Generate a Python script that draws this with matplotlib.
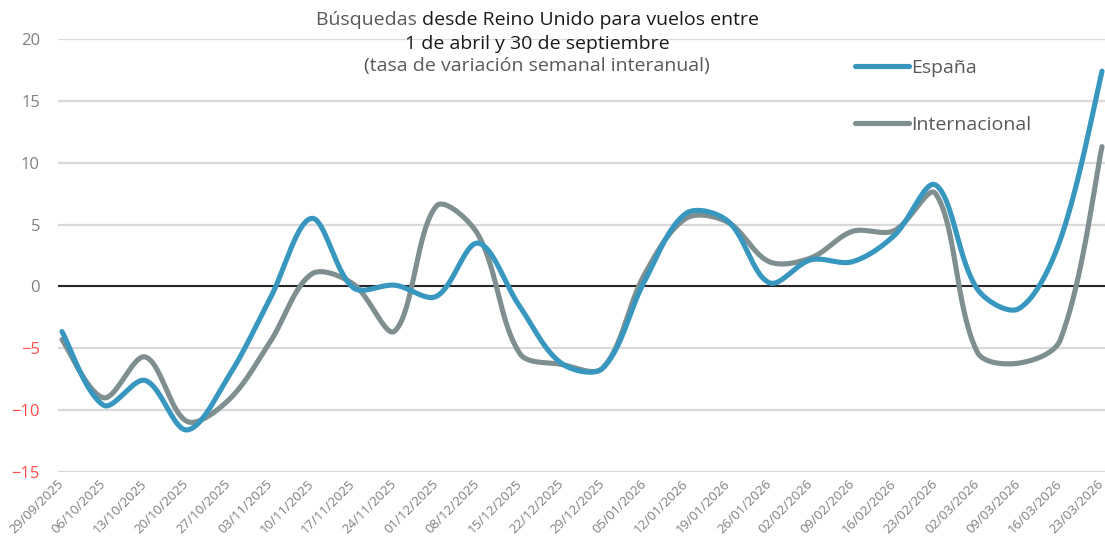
import numpy as np
import matplotlib
matplotlib.use("Agg")
import matplotlib.pyplot as plt

# Datos
fechas = ['29/09/2025', '06/10/2025', '13/10/2025', '20/10/2025', '27/10/2025',
          '03/11/2025', '10/11/2025', '17/11/2025', '24/11/2025', '01/12/2025',
          '08/12/2025', '15/12/2025', '22/12/2025', '29/12/2025', '05/01/2026',
          '12/01/2026', '19/01/2026', '26/01/2026', '02/02/2026', '09/02/2026',
          '16/02/2026', '23/02/2026', '02/03/2026', '09/03/2026', '16/03/2026',
          '23/03/2026']
espana = [-3.65, -9.6, -7.6, -11.6, -7.3, -1.0, 5.5, -0.1, 0.1, -0.8,
          3.5, -1.6, -6.2, -6.6, 0.4, 5.9, 5.3, 0.3, 2.15, 2.0,
          4.1, 8.2, -0.2, -1.8, 3.8, 17.4]
internacional = [-4.3, -9.0, -5.7, -10.9, -9.2, -4.5, 1.0, 0.2, -3.6, 6.5,
                 4.2, -5.4, -6.3, -6.6, 0.95, 5.5, 5.2, 2.0, 2.3, 4.45,
                 4.5, 7.5, -5.3, -6.2, -4.3, 11.3]

azul = '#3797BF'
gris = '#7F8F8F'
texto = '#595959'
rojo = '#FF4B4B'

plt.rcParams['font.family'] = ['Open Sans', 'DejaVu Sans']

# escala aproximada en pixeles (para suavizar como Excel)
px_x = 41.6
px_y = 12.37


# Linea suavizada tipo Excel (Bezier con puntos de control segun distancias)
def suavizar(y, n=40):
    P = np.column_stack([np.arange(len(y)) * px_x, np.asarray(y, float) * px_y])
    m = len(P)
    antes = np.zeros_like(P)
    despues = np.zeros_like(P)
    for i in range(m):
        if i == 0:
            despues[i] = P[i] + (P[1] - P[0]) / 6
            continue
        if i == m - 1:
            antes[i] = P[i] - (P[i] - P[i - 1]) / 6
            continue
        d = P[i + 1] - P[i - 1]
        l1 = np.hypot(*(P[i] - P[i - 1]))
        l2 = np.hypot(*(P[i + 1] - P[i]))
        antes[i] = P[i] - d * l1 / (l1 + l2) / 3
        despues[i] = P[i] + d * l2 / (l1 + l2) / 3
    t = np.linspace(0, 1, n)[:, None]
    partes = []
    for i in range(m - 1):
        b = ((1 - t) ** 3 * P[i] + 3 * (1 - t) ** 2 * t * despues[i]
             + 3 * (1 - t) * t ** 2 * antes[i + 1] + t ** 3 * P[i + 1])
        partes.append(b)
    c = np.vstack(partes)
    return c[:, 0] / px_x, c[:, 1] / px_y


fig = plt.figure(figsize=(11.05, 5.45), dpi=100)
ax = fig.add_axes([58 / 1105, 1 - 472 / 545, 1 - 58 / 1105, (472 - 39) / 545])

x = np.arange(len(fechas))
for y in [-15, -10, -5, 5, 10, 15, 20]:
    ax.axhline(y, color='#D9D9D9', lw=1.6, zorder=0)
ax.axhline(0, color='#262626', lw=1.5, zorder=1)

xe, ye = suavizar(espana)
xi, yi = suavizar(internacional)
ax.plot(xe, ye, color=azul, lw=3.7, solid_capstyle='round', label='España', zorder=3)
ax.plot(xi, yi, color=gris, lw=3.7, solid_capstyle='round', label='Internacional', zorder=2)

ax.set_xlim(-4 / 41.6, 25 + 3 / 41.6)
ax.set_ylim(-15, 20)
ax.set_yticks([-15, -10, -5, 0, 5, 10, 15, 20])
ax.set_xticks(x)
ax.set_xticklabels(fechas, rotation=45, ha='right', va='center', rotation_mode='anchor',
                   fontsize=9.5, color='#7F7F7F')
for lab, v in zip(ax.get_yticklabels(), [-15, -10, -5, 0, 5, 10, 15, 20]):
    lab.set_color(rojo if v < 0 else '#808080')
    lab.set_fontsize(12)
ax.tick_params(axis='both', length=0)
ax.tick_params(axis='y', pad=13)
ax.tick_params(axis='x', pad=7)
for s in ax.spines.values():
    s.set_visible(False)

leg = ax.legend(loc='upper left', bbox_to_anchor=(855 / 1105, 1 - 59 / 545),
                bbox_transform=fig.transFigure, frameon=False, fontsize=14,
                handlelength=2.8, handletextpad=0.1, labelspacing=2.0,
                borderpad=0, borderaxespad=0)
for t in leg.get_texts():
    t.set_color(texto)

# Titulo
cx = 537 / 1105
tam = 14
t1 = fig.text(0, 1 - 20 / 545, 'Búsquedas ', color=texto, fontsize=tam, va='center', ha='left')
t2 = fig.text(0, 1 - 20 / 545, 'desde Reino Unido para vuelos entre', color='#1A1A1A',
              fontsize=tam, va='center', ha='left')
fig.canvas.draw()
r = fig.canvas.get_renderer()
w1 = t1.get_window_extent(r).width / fig.bbox.width
w2 = t2.get_window_extent(r).width / fig.bbox.width
x0 = cx - (w1 + w2) / 2
t1.set_x(x0)
t2.set_x(x0 + w1)
fig.text(cx, 1 - 44 / 545, '1 de abril y 30 de septiembre', color='#1A1A1A',
         fontsize=tam, va='center', ha='center')
fig.text(cx, 1 - 66 / 545, '(tasa de variación semanal interanual)', color=texto,
         fontsize=tam, va='center', ha='center')

fig.savefig('out.png', dpi=100)
